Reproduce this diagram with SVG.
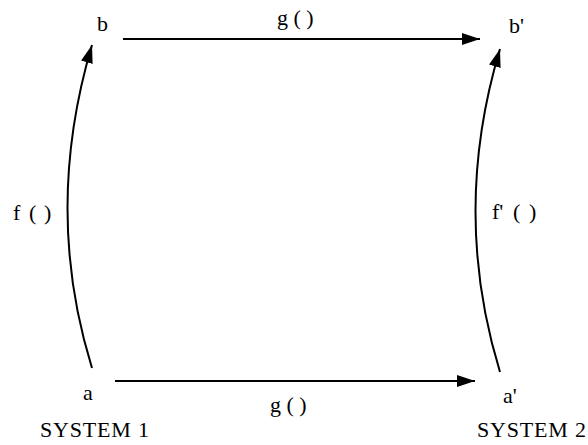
<svg xmlns="http://www.w3.org/2000/svg" width="588" height="445" viewBox="0 0 588 445">
<defs>
<marker id="ah" viewBox="0 0 18 12" refX="18" refY="6" markerWidth="18" markerHeight="12" markerUnits="userSpaceOnUse" orient="auto">
<path d="M0,0 L18,6 L0,12 Z" fill="#000"/>
</marker>
</defs>
<style>
.c{fill:none;stroke:#000;stroke-width:2}
</style>
<rect width="588" height="445" fill="#fff"/>
<g id="connectors">
<path class="c" d="M123,39 L480,39" marker-end="url(#ah)"/>
<path class="c" d="M115,381 L475,381" marker-end="url(#ah)"/>
<path class="c" d="M92,368 Q43,210 92,45" marker-end="url(#ah)"/>
<path class="c" d="M500,372 Q451,212 500,49" marker-end="url(#ah)"/>
</g>
<g font-family="'Times New Roman', 'Liberation Serif', Times, serif" font-size="22" fill="#000">
<g id="node-b"><text x="97" y="31">b</text></g>
<g id="node-b2"><text x="509" y="33">b'</text></g>
<g id="node-a"><text x="83" y="400">a</text></g>
<g id="node-a2"><text x="503" y="403">a'</text></g>
<g id="labels">
<text x="277" y="25">g ( )</text>
<text x="270" y="412">g ( )</text>
<text x="13" y="220">f <tspan x="29">(</tspan> <tspan x="44">)</tspan></text>
<text x="492" y="219">f' <tspan x="513">(</tspan> <tspan x="529">)</tspan></text>
<text x="40" y="437" textLength="109">SYSTEM 1</text>
<text x="477" y="437" textLength="109">SYSTEM 2</text>
</g>
</g>
</svg>
